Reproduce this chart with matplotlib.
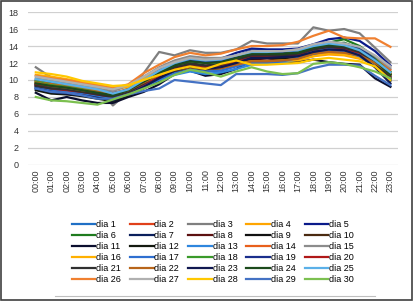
import matplotlib.pyplot as plt
from matplotlib.lines import Line2D
from matplotlib.patches import Rectangle

hours = ["%02d:00" % h for h in range(24)]

dia = {
    1:  [9.3, 9.0, 8.8, 8.6, 8.3, 7.9, 8.6, 9.5, 10.4, 11.0, 11.4, 11.0, 11.2, 11.8, 12.0, 12.0, 12.2, 12.3, 13.0, 13.3, 13.2, 12.8, 11.6, 10.0],
    2:  [9.5, 9.2, 9.0, 8.8, 8.5, 8.1, 8.9, 9.7, 10.6, 11.4, 11.8, 11.6, 11.7, 12.2, 12.8, 12.8, 12.7, 12.8, 13.5, 13.8, 13.6, 13.0, 12.0, 10.6],
    3:  [11.5, 10.3, 10.0, 9.6, 9.2, 7.0, 8.6, 10.8, 13.3, 12.9, 13.5, 13.2, 13.2, 13.6, 14.6, 14.3, 14.3, 14.3, 16.2, 15.8, 16.0, 15.5, 13.8, 12.1],
    4:  [9.7, 9.4, 9.1, 8.9, 8.6, 8.0, 8.7, 9.8, 10.9, 11.2, 11.2, 11.0, 11.3, 11.7, 12.1, 12.0, 12.1, 12.3, 12.8, 13.0, 12.9, 12.5, 11.9, 10.7],
    5:  [10.0, 9.6, 9.3, 9.0, 8.8, 8.5, 8.8, 10.0, 11.3, 12.2, 12.7, 12.4, 12.5, 13.2, 13.7, 13.6, 13.6, 13.7, 14.2, 14.8, 15.0, 14.6, 13.4, 11.7],
    6:  [9.9, 9.6, 9.4, 9.0, 8.7, 8.2, 8.5, 9.8, 11.0, 11.9, 12.4, 12.1, 12.3, 12.6, 13.0, 13.0, 13.1, 13.4, 14.0, 14.4, 14.8, 14.0, 12.7, 11.0],
    7:  [9.6, 9.3, 9.0, 8.8, 8.5, 8.2, 8.8, 9.8, 11.0, 12.0, 12.4, 12.0, 12.3, 12.8, 13.4, 13.4, 13.4, 13.3, 13.8, 14.2, 14.1, 13.6, 12.5, 10.6],
    8:  [9.4, 9.1, 8.9, 8.6, 8.4, 8.1, 8.7, 9.6, 10.5, 11.3, 11.7, 11.5, 11.6, 12.0, 12.4, 12.3, 12.4, 12.6, 13.2, 13.5, 13.3, 12.9, 11.8, 10.3],
    9:  [9.2, 8.9, 8.7, 8.5, 8.2, 7.9, 8.5, 9.4, 10.3, 11.2, 11.8, 11.6, 11.7, 12.3, 12.8, 12.8, 12.9, 13.0, 13.5, 13.8, 13.6, 13.1, 11.9, 10.1],
    10: [9.6, 9.2, 9.0, 8.7, 8.5, 8.2, 8.8, 9.8, 10.8, 11.6, 12.0, 11.7, 11.9, 12.4, 12.9, 12.9, 12.8, 12.9, 13.4, 13.7, 13.6, 13.1, 12.2, 10.7],
    11: [8.5, 7.6, 8.0, 7.6, 7.3, 7.3, 8.0, 8.6, 9.5, 10.7, 11.1, 10.5, 10.7, 11.3, 12.3, 12.2, 12.1, 12.1, 12.4, 12.1, 11.9, 11.8, 10.2, 9.2],
    12: [8.8, 8.4, 8.3, 8.1, 7.8, 7.5, 8.2, 9.0, 9.9, 10.9, 11.5, 11.2, 11.4, 11.9, 12.6, 12.6, 12.5, 12.6, 13.2, 13.5, 13.4, 13.0, 11.8, 9.9],
    13: [9.0, 8.8, 8.6, 8.4, 8.1, 7.8, 8.4, 9.2, 10.0, 10.6, 11.0, 10.7, 10.9, 11.3, 11.8, 11.9, 12.0, 12.4, 13.6, 13.7, 13.5, 13.0, 11.7, 10.2],
    14: [9.8, 9.5, 9.3, 9.1, 8.8, 8.4, 9.0, 10.2, 11.4, 12.2, 12.6, 12.4, 12.5, 12.8, 12.8, 12.7, 12.8, 13.0, 13.8, 14.1, 14.0, 13.5, 12.6, 11.2],
    15: [10.2, 9.9, 9.6, 9.3, 9.0, 8.7, 9.3, 10.4, 11.5, 12.3, 12.8, 12.6, 12.6, 12.9, 13.3, 13.3, 13.4, 13.6, 14.1, 14.4, 14.2, 13.8, 12.8, 11.4],
    16: [10.6, 10.4, 10.1, 9.8, 9.4, 9.1, 9.2, 10.2, 11.0, 11.6, 11.8, 11.5, 11.7, 12.0, 12.2, 12.2, 12.3, 12.3, 12.8, 13.2, 13.0, 12.6, 11.9, 10.5],
    17: [9.1, 8.8, 8.7, 8.4, 8.2, 8.0, 8.5, 9.3, 10.1, 10.8, 11.2, 11.0, 11.1, 11.6, 12.0, 12.1, 12.2, 12.6, 13.1, 13.4, 13.3, 12.8, 11.6, 10.0],
    18: [9.8, 9.4, 9.2, 8.9, 8.6, 8.3, 8.9, 9.9, 10.9, 11.8, 12.2, 12.0, 12.1, 12.6, 13.2, 13.2, 13.2, 13.3, 13.9, 14.2, 14.4, 13.7, 12.5, 10.8],
    19: [9.5, 9.1, 8.9, 8.7, 8.4, 8.1, 8.7, 9.7, 10.8, 11.7, 12.3, 12.1, 12.2, 12.8, 13.5, 13.4, 13.3, 13.5, 14.0, 14.4, 14.3, 13.8, 12.4, 10.4],
    20: [9.4, 9.0, 8.8, 8.6, 8.3, 8.0, 8.6, 9.5, 10.5, 11.3, 11.8, 11.6, 11.7, 12.2, 12.8, 12.7, 12.8, 13.0, 13.6, 13.9, 13.7, 13.2, 12.0, 10.3],
    21: [9.3, 9.0, 8.9, 8.6, 8.3, 8.0, 8.6, 9.6, 10.7, 11.5, 11.9, 11.7, 11.8, 12.4, 12.9, 12.9, 12.9, 13.1, 13.6, 13.9, 13.8, 13.3, 12.0, 10.2],
    22: [9.7, 9.3, 9.1, 8.8, 8.6, 8.3, 8.8, 9.7, 10.6, 11.1, 11.5, 11.3, 11.4, 11.8, 12.2, 12.2, 12.3, 12.5, 13.1, 13.3, 13.2, 12.9, 12.0, 10.8],
    23: [9.0, 8.6, 8.4, 8.2, 7.9, 7.6, 8.3, 9.2, 10.2, 11.1, 11.6, 11.3, 11.5, 12.0, 12.6, 12.6, 12.7, 12.8, 13.3, 13.6, 13.5, 12.9, 11.5, 9.6],
    24: [9.6, 9.3, 9.1, 8.8, 8.5, 8.2, 8.8, 9.8, 10.8, 11.7, 12.2, 12.0, 12.1, 12.6, 13.1, 13.1, 13.1, 13.2, 13.8, 14.1, 14.0, 13.5, 12.3, 10.6],
    25: [10.1, 9.8, 9.5, 9.2, 8.9, 8.4, 8.9, 10.0, 11.1, 12.0, 12.5, 12.3, 12.4, 12.9, 13.3, 13.3, 13.4, 13.5, 14.0, 14.3, 14.1, 13.5, 12.3, 10.9],
    26: [10.5, 10.2, 10.0, 9.7, 9.4, 9.0, 9.5, 10.8, 11.8, 12.7, 13.2, 12.9, 13.1, 13.6, 14.0, 14.0, 14.1, 14.5, 15.2, 15.8, 15.0, 14.9, 14.9, 13.9],
    27: [10.4, 10.1, 9.8, 9.5, 9.2, 8.9, 9.4, 10.4, 11.4, 12.1, 12.6, 12.4, 12.5, 12.9, 13.4, 13.4, 13.4, 13.6, 14.2, 14.5, 14.3, 13.9, 12.9, 11.6],
    28: [10.9, 10.7, 10.4, 9.9, 9.6, 9.3, 9.4, 10.0, 10.6, 11.2, 11.6, 11.3, 11.9, 12.3, 11.8, 11.8, 11.9, 12.0, 12.4, 12.6, 12.4, 12.2, 11.6, 10.0],
    29: [9.0, 8.6, 8.5, 8.2, 7.8, 7.8, 8.3, 8.7, 9.0, 10.0, 9.8, 9.6, 9.4, 10.7, 10.7, 10.7, 10.6, 10.8, 11.4, 11.8, 11.8, 11.7, 10.5, 9.4],
    30: [8.0, 7.6, 7.5, 7.3, 7.1, 7.7, 8.3, 9.0, 9.7, 10.6, 11.2, 10.9, 10.4, 11.0, 11.5, 11.0, 10.7, 10.8, 11.9, 12.1, 11.9, 11.5, 11.0, 10.2],
}

colors = ["#1F6FC5", "#E0401A", "#7F7F7F", "#FFA500", "#0A1A8A",
          "#1E7B1E", "#0A1F5C", "#5C1010", "#111111", "#4A2A10",
          "#0B0E2E", "#141A10", "#2E86DE", "#E8601C", "#8C8C8C",
          "#FFB000", "#2F6FD0", "#3A9A2A", "#1A2E8C", "#B01818",
          "#303030", "#B8651A", "#101850", "#1C4A1C", "#5BB0E8",
          "#F08030", "#B0B0B0", "#FFC800", "#4472C4", "#7CC050"]

plt.rcParams['font.family'] = ['Liberation Sans', 'DejaVu Sans']

fig = plt.figure(figsize=(4.13, 3.01), dpi=100)
ax = fig.add_axes([0.068, 0.452, 0.896, 0.508])

x = list(range(len(hours)))
handles = []
for i in range(1, 31):
    h, = ax.plot(x, dia[i], color=colors[i - 1], lw=1.6, label="dia %d" % i)
    handles.append(h)

ax.set_xlim(-0.5, 23.5)
ax.set_ylim(0, 18)
ax.set_yticks(range(0, 19, 2))
ax.set_xticks(x)
ax.set_xticklabels(hours, rotation=90, fontsize=6.5, color="#333333")
ax.tick_params(axis='y', labelsize=6.5, labelcolor="#333333", length=0, pad=7)
ax.tick_params(axis='x', length=0, pad=3)
ax.grid(axis='y', color="#D0D0D0", lw=0.9)
ax.set_axisbelow(True)
for s in ax.spines.values():
    s.set_visible(False)

# legend is filled by rows in the original, matplotlib fills by columns
ncol, nrow = 5, 6
order = [r * ncol + c for c in range(ncol) for r in range(nrow)]
fig.legend([handles[k] for k in order], ["dia %d" % (k + 1) for k in order],
           loc='upper center', bbox_to_anchor=(0.515, 0.283), ncol=ncol,
           fontsize=6.5, frameon=False, handlelength=2.6, handletextpad=0.1,
           columnspacing=1.0, labelspacing=0.22, borderpad=0)

fig.add_artist(Line2D([55 / 413, 375 / 413], [1 - 296 / 301] * 2,
                      color="#BFBFBF", lw=0.8))
fig.add_artist(Rectangle((0.002, 0.003), 0.996, 0.994, fill=False,
                         edgecolor="#404040", lw=1.2, transform=fig.transFigure))

fig.savefig("out.png", dpi=100)
